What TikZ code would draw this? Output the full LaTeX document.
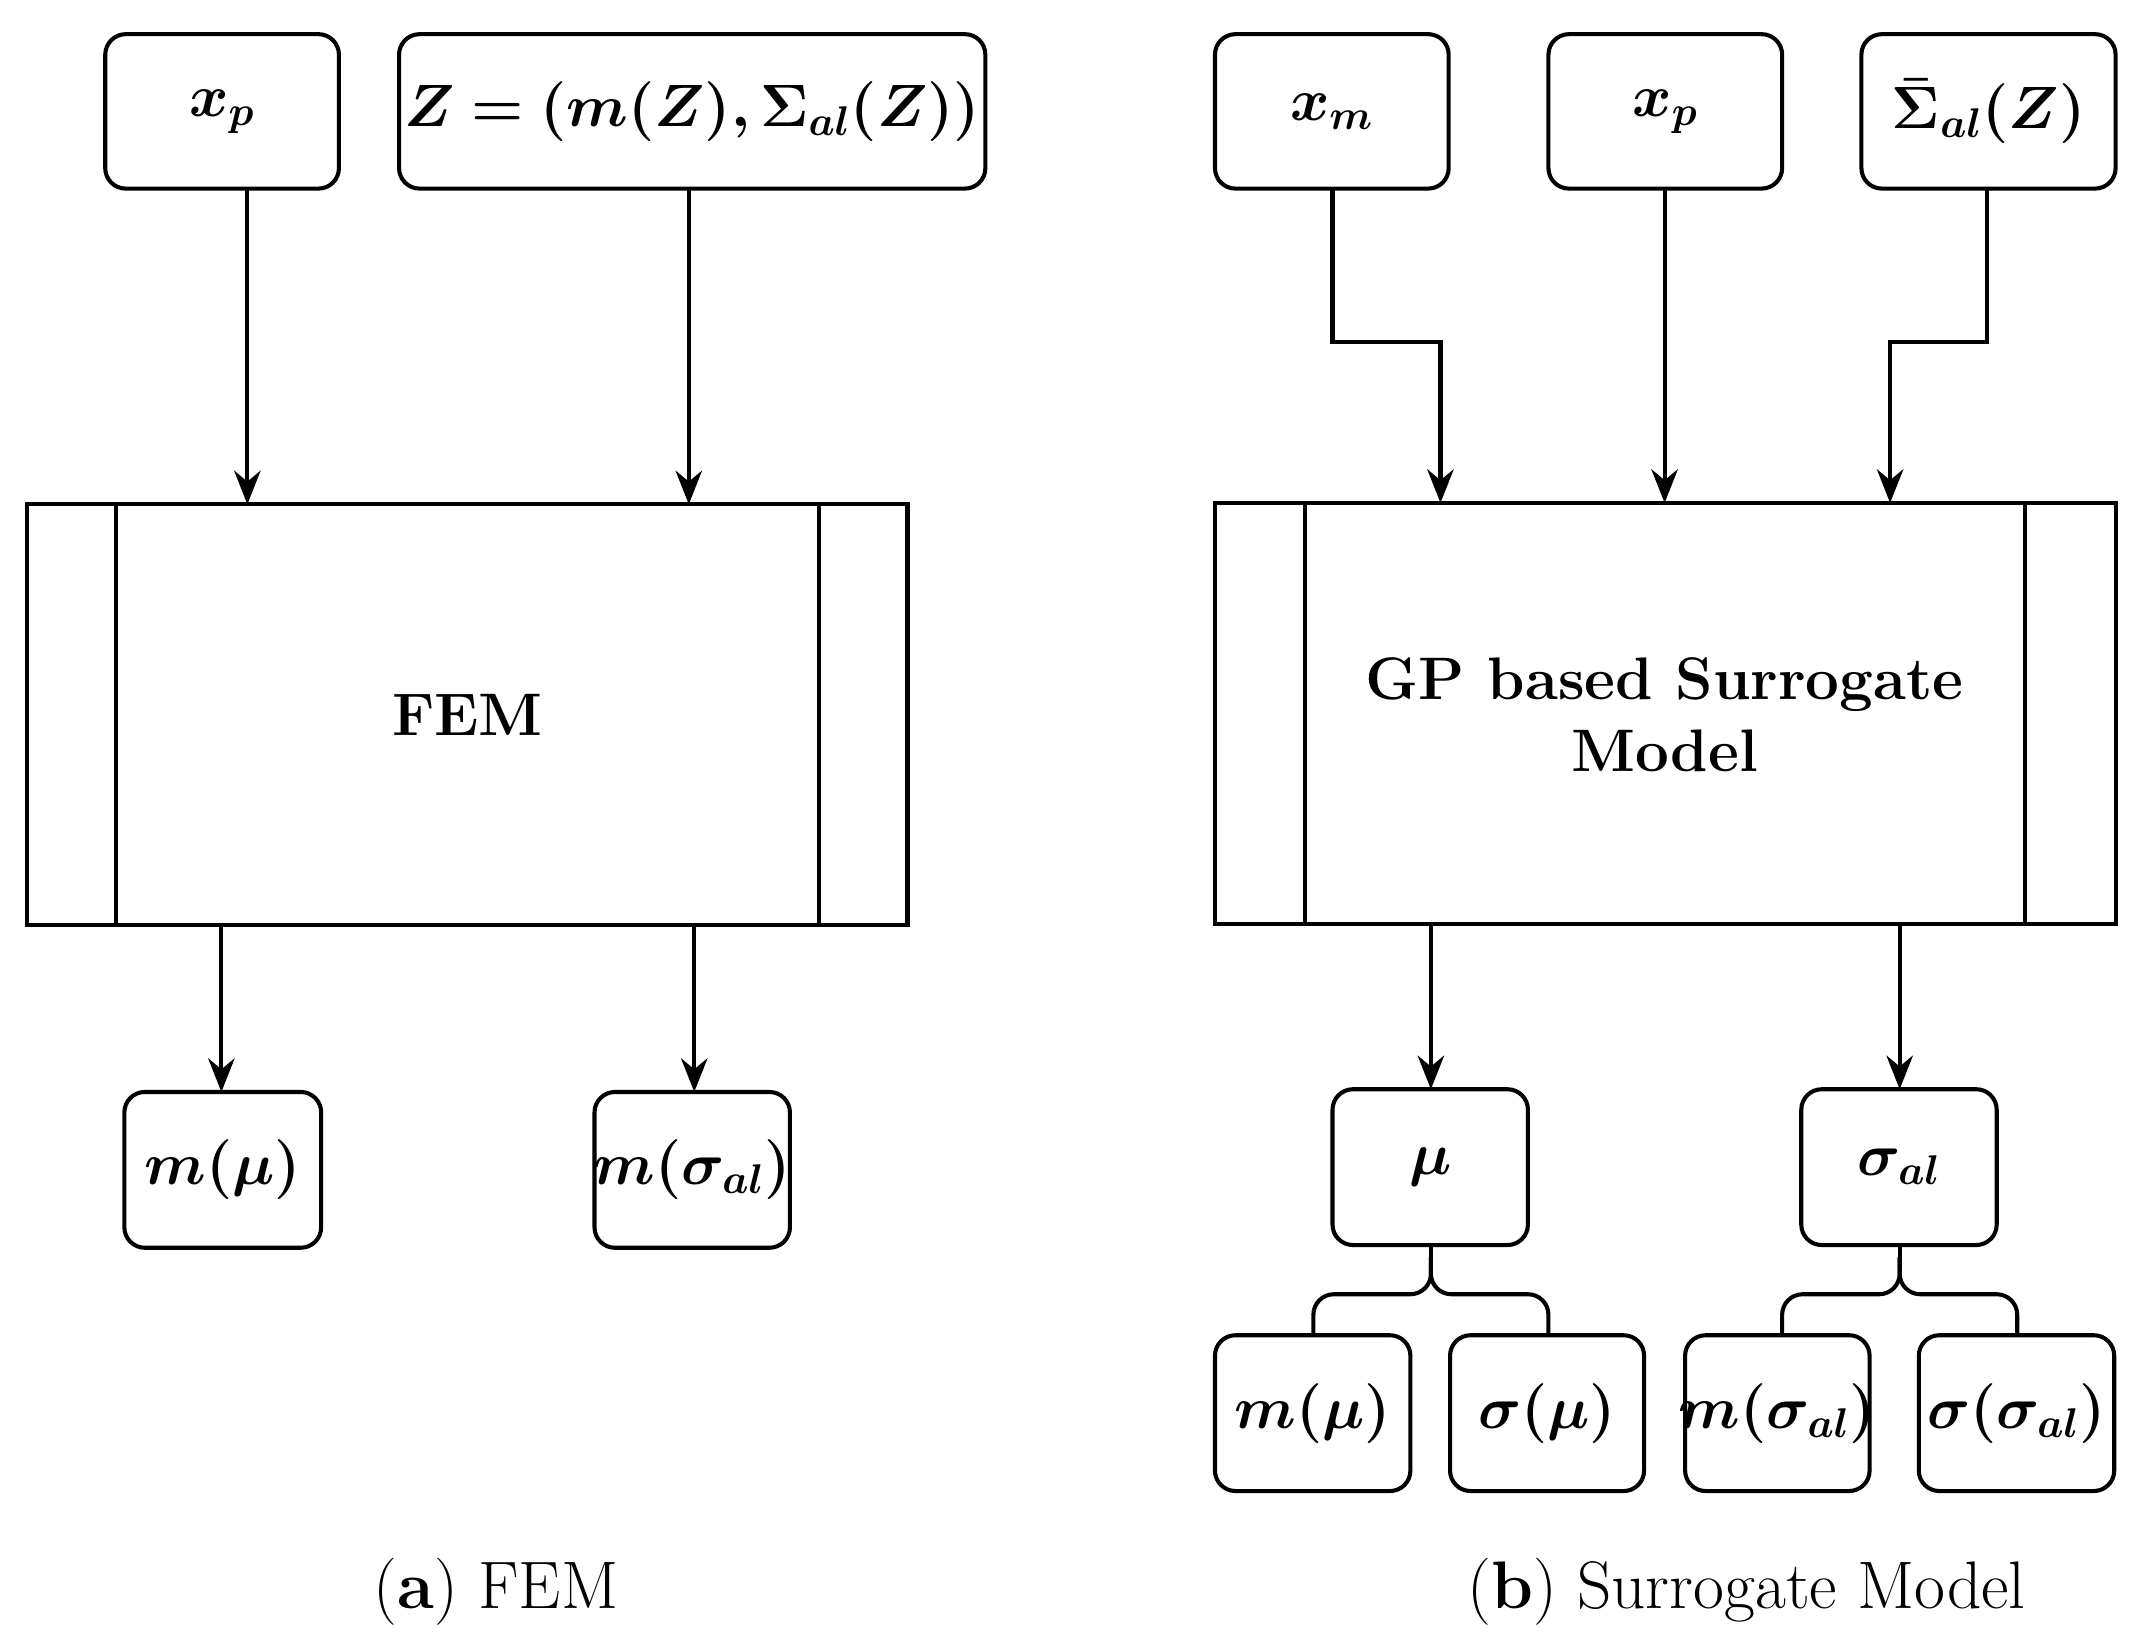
\documentclass[tikz,border=0pt]{standalone}
\usepackage{bm}
\usetikzlibrary{arrows.meta}
\begin{document}
\begin{tikzpicture}[x=0.02cm,y=-0.02cm,
  box/.style={draw,line width=1.7pt,rounded corners=0.3cm},
  blk/.style={draw,line width=1.7pt},
  arr/.style={line width=1.7pt,-{Stealth[length=14pt,width=11pt]}},
  ln/.style={line width=1.7pt,rounded corners=0.3cm},
  lab/.style={font=\fontsize{25}{30}\selectfont,inner sep=1pt},
  captxt/.style={font=\fontsize{28}{34}\selectfont}]
\useasboundingbox (0,0) rectangle (1560,1200);
% left
\draw[box] (77,25) rectangle node[lab] (xpL) {$\bm{x_p}$} (248,138);
\draw[box] (292,25) rectangle node[lab] (Z) {$\bm{Z=(m(Z),\Sigma_{al}(Z))}$} (721,138);
\draw[blk] (20,369) rectangle (664,677);
\draw[blk] (85,369)--(85,677) (599,369)--(599,677);
\node[lab,font=\fontsize{25}{30}\selectfont\bfseries] (fem) at (342,523) {FEM};
\draw[box] (91,799) rectangle node[lab] (mmuL) {$\bm{m(\mu)}$} (235,913);
\draw[box] (435,799) rectangle node[lab] (msL) {$\bm{m(\sigma_{al})}$} (578,913);
\coordinate (a1) at (181,138); \coordinate (a2) at (181,369);
\coordinate (b1) at (504,138); \coordinate (b2) at (504,369);
\coordinate (c1) at (162,677); \coordinate (c2) at (162,799);
\coordinate (d1) at (508,677); \coordinate (d2) at (508,799);
\draw[arr] (a1)--(a2); \draw[arr] (b1)--(b2);
\draw[arr] (c1)--(c2); \draw[arr] (d1)--(d2);
\node[captxt] (capa) at (363,1165) {(\textbf{a}) FEM};
% right
\draw[box] (889,25) rectangle node[lab] (xm) {$\bm{x_m}$} (1060,138);
\draw[box] (1133,25) rectangle node[lab] (xpR) {$\bm{x_p}$} (1304,138);
\draw[box] (1362,25) rectangle node[lab] (sig) {$\bm{\bar\Sigma_{al}(Z)}$} (1548,138);
\draw[blk] (889,368) rectangle (1548,676);
\draw[blk] (955,368)--(955,676) (1482,368)--(1482,676);
\node[lab,font=\fontsize{25}{30}\selectfont\bfseries,align=center] (gp) at (1218,523) {GP based Surrogate\\Model};
\draw[arr] (975,138)--(975,250)--(1054,250)--(1054,368);
\draw[arr] (1218,138)--(1218,368);
\draw[arr] (1454,138)--(1454,250)--(1383,250)--(1383,368);
\draw[arr] (1047,676)--(1047,797);
\draw[arr] (1390,676)--(1390,797);
\draw[box] (975,797) rectangle node[lab] (mu) {$\bm{\mu}$} (1118,911);
\draw[box] (1318,797) rectangle node[lab] (sal) {$\bm{\sigma_{al}}$} (1461,911);
\draw[box] (889,977) rectangle node[lab] {$\bm{m(\mu)}$} (1032,1091);
\draw[box] (1061,977) rectangle node[lab] {$\bm{\sigma(\mu)}$} (1203,1091);
\draw[box] (1233,977) rectangle node[lab] {$\bm{m(\sigma_{al})}$} (1368,1091);
\draw[box] (1404,977) rectangle node[lab] {$\bm{\sigma(\sigma_{al})}$} (1547,1091);
\draw[ln] (961,977)--(961,947)--(1047,947)--(1047,920);
\draw[ln] (1133,977)--(1133,947)--(1047,947)--(1047,920);
\draw[line width=1.7pt] (1047,911)--(1047,930);
\draw[ln] (1304,977)--(1304,947)--(1390,947)--(1390,920);
\draw[ln] (1476,977)--(1476,947)--(1390,947)--(1390,920);
\draw[line width=1.7pt] (1390,911)--(1390,930);
\node[captxt] (capb) at (1278,1165) {(\textbf{b}) Surrogate Model};
\end{tikzpicture}
\end{document}
